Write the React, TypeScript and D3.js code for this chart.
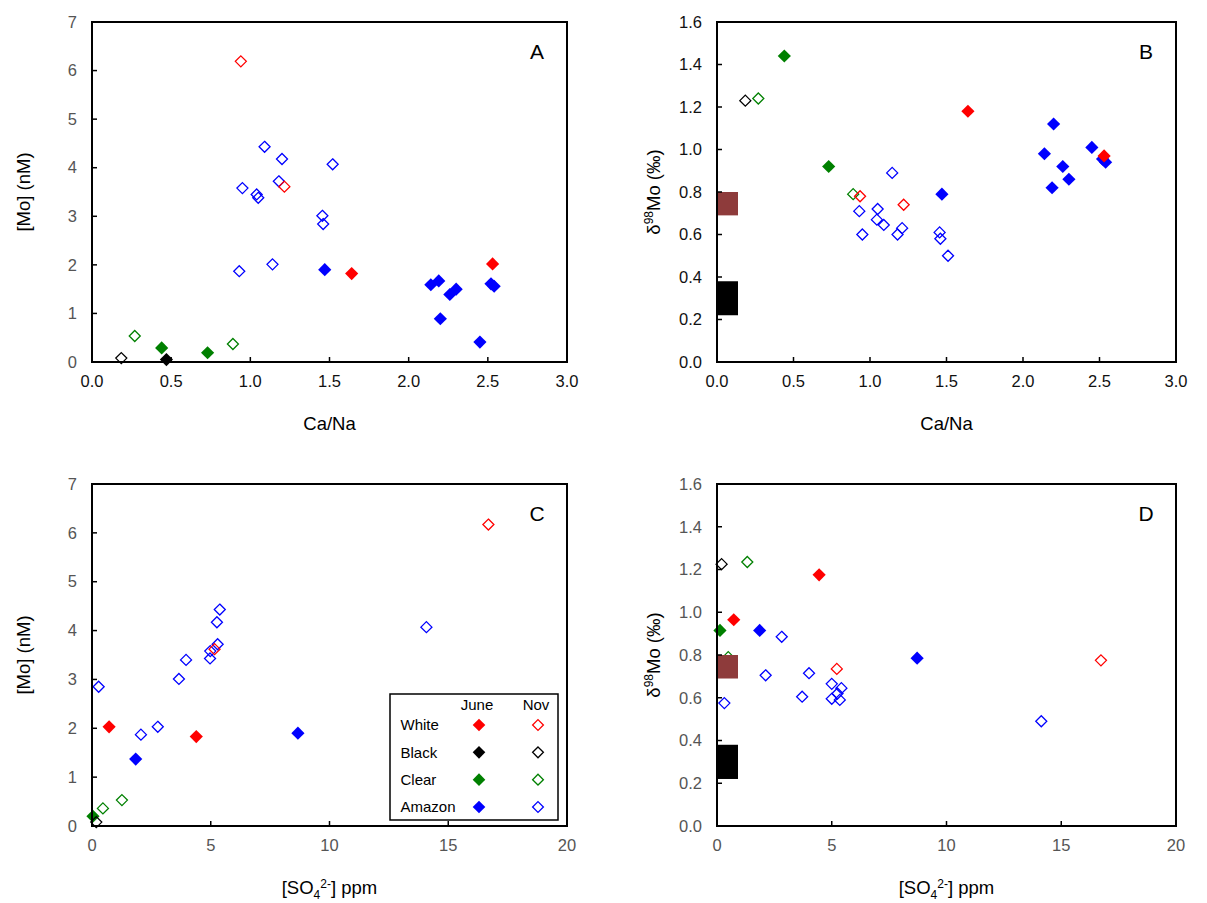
import React from "react";
import * as d3 from "d3";

type Pt = [number, number];

// ---------- DATA ----------
const groups = ["Amazon", "Clear", "Black", "White"];
const groupColors = ["#0000ff", "#008000", "#000000", "#ff0000"];
const legendOrder = ["White", "Black", "Clear", "Amazon"];
const seasons = ["June", "Nov"];

// Panel A: Ca/Na vs [Mo] (nM)
const aAmazonJune: Pt[] = [[1.47, 1.9], [2.14, 1.59], [2.19, 1.67], [2.26, 1.39], [2.3, 1.5], [2.2, 0.89], [2.45, 0.41], [2.52, 1.61], [2.54, 1.56]];
const aAmazonNov: Pt[] = [[1.09, 4.43], [1.2, 4.18], [1.52, 4.07], [1.18, 3.72], [0.95, 3.58], [1.04, 3.45], [1.05, 3.38], [1.455, 3.01], [1.46, 2.84], [1.14, 2.01], [0.93, 1.87]];
const aClearJune: Pt[] = [[0.44, 0.29], [0.73, 0.19]];
const aClearNov: Pt[] = [[0.27, 0.535], [0.89, 0.37]];
const aBlackJune: Pt[] = [[0.47, 0.05]];
const aBlackNov: Pt[] = [[0.185, 0.08]];
const aWhiteJune: Pt[] = [[1.64, 1.82], [2.53, 2.02]];
const aWhiteNov: Pt[] = [[0.94, 6.19], [1.215, 3.61]];

// Panel B: Ca/Na vs d98Mo
const bAmazonJune: Pt[] = [[1.47, 0.79], [2.14, 0.98], [2.2, 1.12], [2.26, 0.92], [2.3, 0.86], [2.19, 0.82], [2.45, 1.01], [2.52, 0.955], [2.54, 0.94]];
const bAmazonNov: Pt[] = [[1.145, 0.89], [0.93, 0.71], [1.05, 0.72], [1.045, 0.67], [1.09, 0.645], [0.95, 0.6], [1.21, 0.63], [1.18, 0.6], [1.455, 0.61], [1.46, 0.58], [1.51, 0.5]];
const bClearJune: Pt[] = [[0.44, 1.44], [0.73, 0.92]];
const bClearNov: Pt[] = [[0.27, 1.24], [0.89, 0.79]];
const bBlackJune: Pt[] = [];
const bBlackNov: Pt[] = [[0.185, 1.23]];
const bWhiteJune: Pt[] = [[1.64, 1.18], [2.53, 0.97]];
const bWhiteNov: Pt[] = [[0.935, 0.78], [1.22, 0.74]];

// Panel C: SO4 vs [Mo]
const cAmazonJune: Pt[] = [[1.84, 1.37], [8.67, 1.9]];
const cAmazonNov: Pt[] = [[14.08, 4.07], [5.38, 4.43], [5.26, 4.17], [5.29, 3.72], [4.98, 3.58], [4.97, 3.43], [3.96, 3.4], [3.66, 3.01], [0.28, 2.85], [2.77, 2.03], [2.06, 1.87]];
const cClearJune: Pt[] = [[0.04, 0.2]];
const cClearNov: Pt[] = [[1.26, 0.53], [0.46, 0.36]];
const cBlackJune: Pt[] = [];
const cBlackNov: Pt[] = [[0.18, 0.08]];
const cWhiteJune: Pt[] = [[0.72, 2.03], [4.39, 1.83]];
const cWhiteNov: Pt[] = [[16.69, 6.17], [5.16, 3.62]];

// Panel D: SO4 vs d98Mo
const dAmazonJune: Pt[] = [[1.86, 0.915], [8.72, 0.785]];
const dAmazonNov: Pt[] = [[2.82, 0.885], [2.12, 0.705], [4.01, 0.715], [5.0, 0.665], [5.42, 0.645], [5.25, 0.62], [5.0, 0.595], [5.35, 0.59], [3.71, 0.605], [0.32, 0.575], [14.13, 0.49]];
const dClearJune: Pt[] = [[0.13, 0.915]];
const dClearNov: Pt[] = [[1.32, 1.235], [0.49, 0.79]];
const dBlackJune: Pt[] = [];
const dBlackNov: Pt[] = [[0.2, 1.225]];
const dWhiteJune: Pt[] = [[4.45, 1.175], [0.73, 0.965]];
const dWhiteNov: Pt[] = [[16.73, 0.775], [5.22, 0.735]];

// Reference ranges of d98Mo (shown as bars on the left of B and D)
const refRangeBrown: [number, number] = [0.69, 0.8];
const refRangeBlack: [number, number] = [0.22, 0.38];

const caNaTicks = [0, 0.5, 1, 1.5, 2, 2.5, 3];
const moTicks = [0, 1, 2, 3, 4, 5, 6, 7];
const deltaTicks = [0, 0.2, 0.4, 0.6, 0.8, 1.0, 1.2, 1.4, 1.6];
const so4Ticks = [0, 5, 10, 15, 20];

// ---------- DRAWING ----------
const FONT = "'Liberation Sans', Arial, Helvetica, sans-serif";
const diamond = (r: number) => `M0,${-r}L${r},0L0,${r}L${-r},0Z`;

type SeriesSet = Pt[][]; // [AmazonJune, AmazonNov, ClearJune, ClearNov, BlackJune, BlackNov, WhiteJune, WhiteNov]

function Marker({ x, y, color, filled, big = true }: { x: number; y: number; color: string; filled: boolean; big?: boolean }) {
  return filled ? (
    <path d={diamond(6.6)} transform={`translate(${x},${y})`} fill={color} />
  ) : (
    <path d={diamond(5.5)} transform={`translate(${x},${y})`} fill="#fff" fillOpacity={0} stroke={color} strokeWidth={1.3} />
  );
}

interface PanelProps {
  left: number; top: number; width: number; height: number;
  xDomain: [number, number]; yDomain: [number, number];
  xTicks: number[]; yTicks: number[];
  xFmt: (v: number) => string; yFmt: (v: number) => string;
  xLabelColor: string; yLabelColor: string;
  letter: string;
  series: SeriesSet;
  refs?: boolean;
  xTitle: React.ReactNode; yTitle: React.ReactNode; yTitleX: number;
  legend?: boolean;
}

function Panel(p: PanelProps) {
  const xs = d3.scaleLinear().domain(p.xDomain).range([p.left, p.left + p.width]);
  const ys = d3.scaleLinear().domain(p.yDomain).range([p.top + p.height, p.top]);
  const bottom = p.top + p.height;
  const tickLen = 5;
  return (
    <g>
      {/* points */}
      {p.series.map((pts, i) => {
        const color = groupColors[Math.floor(i / 2)];
        const filled = i % 2 === 0;
        return pts.map((d, j) => (
          <Marker key={`${i}-${j}`} x={xs(d[0])} y={ys(d[1])} color={color} filled={filled} />
        ));
      })}
      {p.refs && (
        <g>
          <rect x={p.left + 1} width={20} y={ys(refRangeBrown[1])} height={ys(refRangeBrown[0]) - ys(refRangeBrown[1])} fill="#8e3b3b" />
          <rect x={p.left + 1} width={20} y={ys(refRangeBlack[1])} height={ys(refRangeBlack[0]) - ys(refRangeBlack[1])} fill="#000" />
        </g>
      )}
      {/* frame */}
      <rect x={p.left} y={p.top} width={p.width} height={p.height} fill="none" stroke="#000" strokeWidth={2} />
      {/* ticks */}
      {p.xTicks.map((t) => (
        <g key={`xt${t}`}>
          {t > p.xDomain[0] && t < p.xDomain[1] && (
            <line x1={xs(t)} x2={xs(t)} y1={bottom} y2={bottom - tickLen} stroke="#000" strokeWidth={1.5} />
          )}
          <text x={xs(t)} y={bottom + 24.5} textAnchor="middle" fontSize={16.5} fill={p.xLabelColor} fontFamily={FONT}>
            {p.xFmt(t)}
          </text>
        </g>
      ))}
      {p.yTicks.map((t) => (
        <g key={`yt${t}`}>
          {t > p.yDomain[0] && t < p.yDomain[1] && (
            <line x1={p.left} x2={p.left + tickLen} y1={ys(t)} y2={ys(t)} stroke="#000" strokeWidth={1.5} />
          )}
          <text x={p.left - 15} y={ys(t)} dy="0.35em" textAnchor="end" fontSize={16.5} fill={p.yLabelColor} fontFamily={FONT}>
            {p.yFmt(t)}
          </text>
        </g>
      ))}
      {/* panel letter */}
      <text x={p.left + p.width - 30} y={p.top + 29} dy="0.36em" textAnchor="middle" fontSize={21} fontFamily={FONT} fill="#000">
        {p.letter}
      </text>
      {/* axis titles */}
      <text x={p.left + p.width / 2} y={bottom + 68} textAnchor="middle" fontSize={18.5} fontFamily={FONT} fill="#000">
        {p.xTitle}
      </text>
      <text transform={`translate(${p.yTitleX},${p.top + p.height / 2}) rotate(-90)`} dy="0.35em" textAnchor="middle" fontSize={18.5} fontFamily={FONT} fill="#000">
        {p.yTitle}
      </text>
      {p.legend && <Legend />}
    </g>
  );
}

function Legend() {
  const bx = 390, by = 694, bw = 168, bh = 126;
  const rowY = d3.scalePoint<string>().domain(legendOrder).range([by + 31, by + 113]);
  const colX = d3.scalePoint<string>().domain(seasons).range([479, 538]);
  return (
    <g fontFamily={FONT} fontSize={15} fill="#000">
      <rect x={bx} y={by} width={bw} height={bh} fill="#fff" stroke="#000" strokeWidth={1.5} />
      {seasons.map((s) => (
        <text key={s} x={colX(s)! - 2} y={by + 11} dy="0.35em" textAnchor="middle">{s}</text>
      ))}
      {legendOrder.map((g) => {
        const color = groupColors[groups.indexOf(g)];
        const y = rowY(g)!;
        return (
          <g key={g}>
            <text x={bx + 10.5} y={y} dy="0.35em">{g}</text>
            <path d={diamond(6.3)} transform={`translate(${colX("June")},${y})`} fill={color} />
            <path d={diamond(5.4)} transform={`translate(${colX("Nov")},${y})`} fill="none" stroke={color} strokeWidth={1.3} />
          </g>
        );
      })}
    </g>
  );
}

const so4Title = (
  <>
    <tspan>[SO</tspan>
    <tspan fontSize={12} dy={5}>4</tspan>
    <tspan fontSize={12} dy={-11}>2-</tspan>
    <tspan dy={6}>] ppm</tspan>
  </>
);
const deltaTitle = (
  <>
    <tspan>δ</tspan>
    <tspan fontSize={12} dy={-7}>98</tspan>
    <tspan dy={7}>Mo (‰)</tspan>
  </>
);

export default function App() {
  const f1 = d3.format(".1f");
  const f0 = d3.format("d");
  const gray = "#555";
  const black = "#111";
  return (
    <svg width={1207} height={903} style={{ display: "block", position: "absolute", left: 0, top: 0 }}>
      <rect width={1207} height={903} fill="#fff" />
      <Panel left={92} top={22} width={475} height={340} xDomain={[0, 3]} yDomain={[0, 7]}
        xTicks={caNaTicks} yTicks={moTicks} xFmt={f1} yFmt={f0} xLabelColor={black} yLabelColor={gray}
        letter="A" series={[aAmazonJune, aAmazonNov, aClearJune, aClearNov, aBlackJune, aBlackNov, aWhiteJune, aWhiteNov]}
        xTitle="Ca/Na" yTitle="[Mo] (nM)" yTitleX={24} />
      <Panel left={717} top={22} width={459} height={340} xDomain={[0, 3]} yDomain={[0, 1.6]}
        xTicks={caNaTicks} yTicks={deltaTicks} xFmt={f1} yFmt={f1} xLabelColor={black} yLabelColor={black}
        letter="B" series={[bAmazonJune, bAmazonNov, bClearJune, bClearNov, bBlackJune, bBlackNov, bWhiteJune, bWhiteNov]}
        refs xTitle="Ca/Na" yTitle={deltaTitle} yTitleX={654} />
      <Panel left={92} top={484} width={475} height={342} xDomain={[0, 20]} yDomain={[0, 7]}
        xTicks={so4Ticks} yTicks={moTicks} xFmt={f0} yFmt={f0} xLabelColor={gray} yLabelColor={gray}
        letter="C" series={[cAmazonJune, cAmazonNov, cClearJune, cClearNov, cBlackJune, cBlackNov, cWhiteJune, cWhiteNov]}
        xTitle={so4Title} yTitle="[Mo] (nM)" yTitleX={24} legend />
      <Panel left={717} top={484} width={459} height={342} xDomain={[0, 20]} yDomain={[0, 1.6]}
        xTicks={so4Ticks} yTicks={deltaTicks} xFmt={f0} yFmt={f1} xLabelColor={gray} yLabelColor={gray}
        letter="D" series={[dAmazonJune, dAmazonNov, dClearJune, dClearNov, dBlackJune, dBlackNov, dWhiteJune, dWhiteNov]}
        refs xTitle={so4Title} yTitle={deltaTitle} yTitleX={654} />
    </svg>
  );
}
